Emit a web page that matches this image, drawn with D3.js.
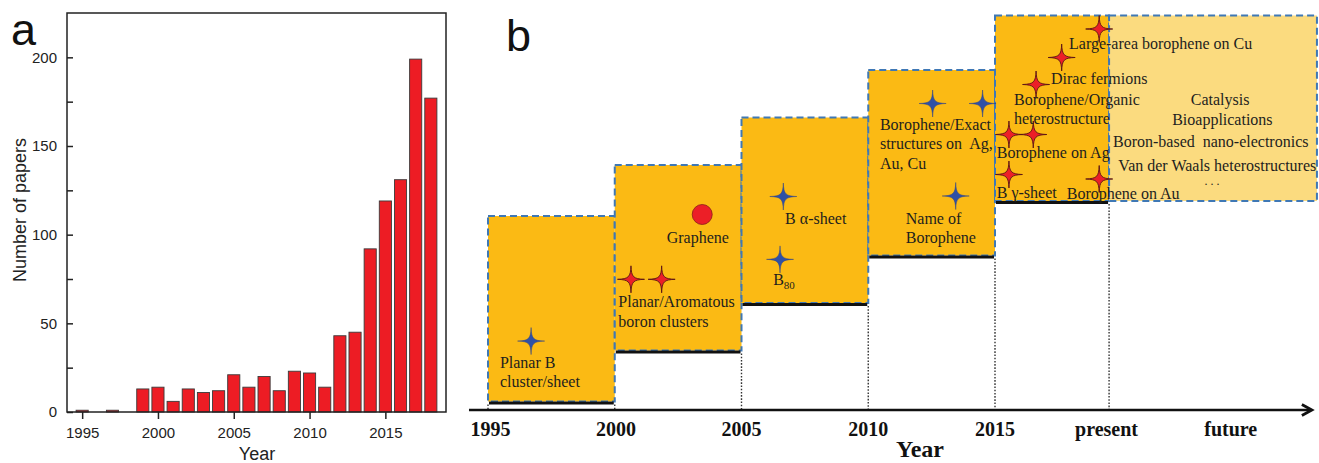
<!DOCTYPE html>
<html>
<head>
<meta charset="utf-8">
<script src="https://cdn.jsdelivr.net/npm/d3@7"></script>
<style>
  html, body { margin: 0; padding: 0; background: #fff; }
  svg { display: block; }
  text { white-space: pre; }
</style>
</head>
<body>
<svg id="fig" width="1319" height="463"></svg>
<script>
// ---------- (a) number of borophene papers per year ----------
const paperYears  = [1995, 1996, 1997, 1998, 1999, 2000, 2001, 2002, 2003, 2004, 2005, 2006,
                     2007, 2008, 2009, 2010, 2011, 2012, 2013, 2014, 2015, 2016, 2017, 2018];
const paperCounts = [1, 0, 1, 0, 13, 14, 6, 13, 11, 12, 21, 14,
                     20, 12, 23, 22, 14, 43, 45, 92, 119, 131, 199, 177];
const countTicks  = [0, 25, 50, 75, 100, 125, 150, 175, 200];
const yearTicks   = [1995, 2000, 2005, 2010, 2015];

// ---------- (b) timeline of boron / borophene milestones ----------
// each stage: start, end (years; "present" ~ mid-2019) and step level
const stageStart = [1995, 2000, 2005, 2010, 2015, 2019.5];
const stageEnd   = [2000, 2005, 2010, 2015, 2019.5, 2027.7];
const stageLevel = [0, 1, 2, 3, 4, 4];
const stageKind  = ["past", "past", "past", "past", "past", "future"];
const timelineLabels = ["1995", "2000", "2005", "2010", "2015", "present", "future"];
const timelineLabelAt = [1995.1, 2000.05, 2005, 2010, 2015, 2019.4, 2024.3];

// milestones: [year, level] of marker and its kind
const markerYear  = [1996.70, 2000.64, 2001.85, 2003.45, 2006.65, 2006.52,
                     2012.54, 2014.51, 2013.45,
                     2019.11, 2017.63, 2016.62, 2015.55, 2016.51, 2015.55, 2019.11];
const markerLevel = [1.23, 2.53, 2.53, 3.78, 4.12, 2.95,
                     5.98, 5.98, 4.13,
                     7.47, 6.90, 6.36, 5.36, 5.36, 4.56, 4.47];
const markerKind  = ["theory", "exp", "exp", "graphene", "theory", "theory",
                     "theory", "theory", "theory",
                     "exp", "exp", "exp", "exp", "exp", "exp", "exp"];

// milestone captions (start-anchored), lines stacked downward
const captionLines = [
  ["Planar B", "cluster/sheet"],
  ["Graphene"],
  ["Planar/Aromatous", "boron clusters"],
  ["B \u03b1-sheet"],
  ["B|80"],
  ["Borophene/Exact", "structures on  Ag,", "Au, Cu"],
  ["Name of", "Borophene"],
  ["Large-area borophene on Cu"],
  ["Dirac fermions"],
  ["Borophene/Organic", "heterostructure"],
  ["Borophene on Ag"],
  ["B \u03b3-sheet"],
  ["Borophene on Au"]
];
const captionYear  = [1995.47, 2002.05, 2000.14, 2006.72, 2006.25, 2010.46, 2011.48,
                      2017.92, 2017.21, 2015.75, 2015.07, 2015.07, 2017.83];
const captionLevel = [0.69, 3.26, 1.94, 3.60, 2.41, 5.45, 3.61,
                      7.08, 6.38, 5.95, 4.90, 4.10, 4.07];

// outlook topics (centred)
const outlookTopics = ["Catalysis", "Bioapplications", "Boron-based  nano-electronics",
                       "Van der Waals heterostructures", ". . ."];
const outlookYear   = [2023.88, 2023.97, 2023.51, 2023.77, 2023.56];
const outlookLevel  = [5.96, 5.55, 5.12, 4.64, 4.36];

const svg = d3.select("#fig");

// ================= panel a =================
const sans = "'Liberation Sans', Arial, sans-serif";
const xA = d3.scaleLinear().domain([1994, 2019]).range([67, 446]);
const yA = d3.scaleLinear().domain([0, 225]).range([412, 13]);
const gA = svg.append("g");

const barW = xA(0.8) - xA(0);
gA.selectAll("rect.bar")
  .data(paperYears.map((y, i) => ({ year: y, n: paperCounts[i] })).filter(d => d.n > 0))
  .join("rect")
  .attr("class", "bar")
  .attr("x", d => xA(d.year) - barW / 2)
  .attr("y", d => yA(d.n))
  .attr("width", barW)
  .attr("height", d => yA(0) - yA(d.n))
  .attr("fill", "#ed1c24")
  .attr("stroke", "#3a3a3a")
  .attr("stroke-width", 0.9);

const axL = gA.append("g").attr("transform", `translate(${xA.range()[0]},0)`)
  .call(d3.axisLeft(yA).tickValues(countTicks).tickSizeInner(-6).tickSizeOuter(0)
    .tickPadding(10).tickFormat(d => d % 50 === 0 ? d : ""));
const axB = gA.append("g").attr("transform", `translate(0,${yA(0)})`)
  .call(d3.axisBottom(xA).tickValues(yearTicks).tickSizeInner(7).tickSizeOuter(0)
    .tickPadding(8).tickFormat(d3.format("d")));
[axL, axB].forEach(a => {
  a.select(".domain").remove();
  a.selectAll("line").attr("stroke", "#222").attr("stroke-width", 1.5);
  a.selectAll("text").attr("fill", "#222").style("font-family", sans).style("font-size", "15px");
});

gA.append("rect")
  .attr("x", xA.range()[0]).attr("y", yA.range()[1])
  .attr("width", xA.range()[1] - xA.range()[0]).attr("height", yA.range()[0] - yA.range()[1])
  .attr("fill", "none").attr("stroke", "#222").attr("stroke-width", 1.5);

gA.append("text").attr("transform", "translate(26,210) rotate(-90)")
  .attr("text-anchor", "middle").style("font-family", sans).style("font-size", "18px")
  .attr("fill", "#222").text("Number of papers");
gA.append("text").attr("x", 257).attr("y", 460).attr("text-anchor", "middle")
  .style("font-family", sans).style("font-size", "18px").attr("fill", "#222").text("Year");
gA.append("text").attr("x", 11).attr("y", 45)
  .style("font-family", sans).style("font-size", "45px").attr("fill", "#111").text("a");

// ================= panel b =================
const serif = "'Liberation Serif', 'Times New Roman', serif";
const xB = d3.scaleLinear().domain([1995, 2015]).range([488, 995]);
// step levels are drawn with uneven rises, as in the timeline layout
const yB = d3.scaleLinear().domain([0, 1, 2, 3, 4, 8]).range([403, 352, 304.5, 257, 202.5, 2.5]);
const boxPx = 187;            // box height, pixels
const axisY = 410;
const gB = svg.append("g");

gB.append("text").attr("x", 506).attr("y", 51)
  .style("font-family", sans).style("font-size", "45px").attr("fill", "#111").text("b");

const stages = stageStart.map((s, i) => ({
  s, e: stageEnd[i], lvl: stageLevel[i], kind: stageKind[i]
}));

// stage boxes
gB.selectAll("rect.stage").data(stages).join("rect")
  .attr("class", "stage")
  .attr("x", d => xB(d.s))
  .attr("y", d => yB(d.lvl) - boxPx)
  .attr("width", d => xB(d.e) - xB(d.s))
  .attr("height", boxPx - 1.5)
  .attr("fill", d => d.kind === "future" ? "#fbdb7f" : "#fbba14")
  .attr("stroke", "#3f78b5")
  .attr("stroke-width", 2)
  .attr("stroke-dasharray", "7,4");

// solid step lines under the completed stages
const past = stages.filter(d => d.kind === "past");
gB.selectAll("line.step").data(past).join("line")
  .attr("class", "step")
  .attr("x1", d => xB(d.s) + 1).attr("x2", d => xB(d.e) - 1)
  .attr("y1", d => yB(d.lvl)).attr("y2", d => yB(d.lvl))
  .attr("stroke", "#111").attr("stroke-width", 3);

// dotted drop lines to the time axis
const drops = [{ x: stageStart[0], lvl: stageLevel[0] }]
  .concat(past.map(d => ({ x: d.e, lvl: d.lvl })));
gB.selectAll("line.drop").data(drops).join("line")
  .attr("class", "drop")
  .attr("x1", d => xB(d.x)).attr("x2", d => xB(d.x))
  .attr("y1", d => yB(d.lvl) + 1.5).attr("y2", axisY)
  .attr("stroke", "#333").attr("stroke-width", 1.4)
  .attr("stroke-dasharray", "1.6,1.6");

// time axis with arrow head
const axisEnd = 2027.5;
gB.append("line")
  .attr("x1", xB(1994.25)).attr("x2", xB(axisEnd) - 1)
  .attr("y1", axisY).attr("y2", axisY)
  .attr("stroke", "#111").attr("stroke-width", 2.6);
gB.append("path")
  .attr("d", `M${xB(axisEnd) - 10},${axisY - 5.5} L${xB(axisEnd)},${axisY} L${xB(axisEnd) - 10},${axisY + 5.5}`)
  .attr("fill", "none").attr("stroke", "#111").attr("stroke-width", 2.8)
  .attr("stroke-linejoin", "miter");

gB.selectAll("text.tl").data(timelineLabels).join("text")
  .attr("class", "tl")
  .attr("x", (d, i) => xB(timelineLabelAt[i]))
  .attr("y", 436)
  .attr("text-anchor", "middle")
  .style("font-family", serif).style("font-size", "20px").style("font-weight", "bold")
  .attr("fill", "#111").text(d => d);
gB.append("text").attr("x", 920).attr("y", 457).attr("text-anchor", "middle")
  .style("font-family", serif).style("font-size", "24px").style("font-weight", "bold")
  .attr("fill", "#111").text("Year");

// four-point star glyph
function starPath(r) {
  const a = 0.03 * r, b = 0.17 * r;
  return `M0,${-r} C${a},${-b} ${b},${-a} ${r},0 C${b},${a} ${a},${b} 0,${r} ` +
         `C${-a},${b} ${-b},${a} ${-r},0 C${-b},${-a} ${-a},${-b} 0,${-r}Z`;
}

const markers = markerYear.map((y, i) => ({ y, lvl: markerLevel[i], kind: markerKind[i] }));
const mg = gB.selectAll("g.marker").data(markers).join("g")
  .attr("class", "marker")
  .attr("transform", d => `translate(${xB(d.y)},${yB(d.lvl)})`);
mg.filter(d => d.kind === "theory").append("path")
  .attr("d", starPath(13.5)).attr("fill", "#2f51a6").attr("stroke", "#2a3f88").attr("stroke-width", 0.5);
mg.filter(d => d.kind === "exp").append("path")
  .attr("d", starPath(13.5)).attr("fill", "#ec1f27").attr("stroke", "#5a1414").attr("stroke-width", 0.9);
mg.filter(d => d.kind === "graphene").append("circle")
  .attr("r", 10).attr("fill", "#ec1f27").attr("stroke", "#8a1b1b").attr("stroke-width", 0.8);

// milestone captions
const lineGap = 19.4;
const capG = gB.selectAll("text.cap").data(captionLines).join("text")
  .attr("class", "cap")
  .attr("x", (d, i) => xB(captionYear[i]))
  .attr("y", (d, i) => yB(captionLevel[i]))
  .style("font-family", serif).style("font-size", "16px").attr("fill", "#1e1e1e");
capG.each(function (lines) {
  const t = d3.select(this);
  const x0 = t.attr("x");
  lines.forEach((ln, j) => {
    if (ln.includes("|")) {
      const [base, sub] = ln.split("|");
      t.append("tspan").attr("x", x0).attr("dy", j ? lineGap : 0).text(base);
      t.append("tspan").attr("dy", 4).style("font-size", "11px").text(sub);
    } else {
      t.append("tspan").attr("x", x0).attr("dy", j ? lineGap : 0).text(ln);
    }
  });
});

// outlook topics in the future box
gB.selectAll("text.topic").data(outlookTopics).join("text")
  .attr("class", "topic")
  .attr("x", (d, i) => xB(outlookYear[i]))
  .attr("y", (d, i) => yB(outlookLevel[i]))
  .attr("text-anchor", "middle")
  .style("font-family", serif).style("font-size", (d, i) => i === outlookTopics.length - 1 ? "12px" : "16px")
  .attr("fill", "#1e1e1e")
  .text(d => d);
</script>
</body>
</html>
